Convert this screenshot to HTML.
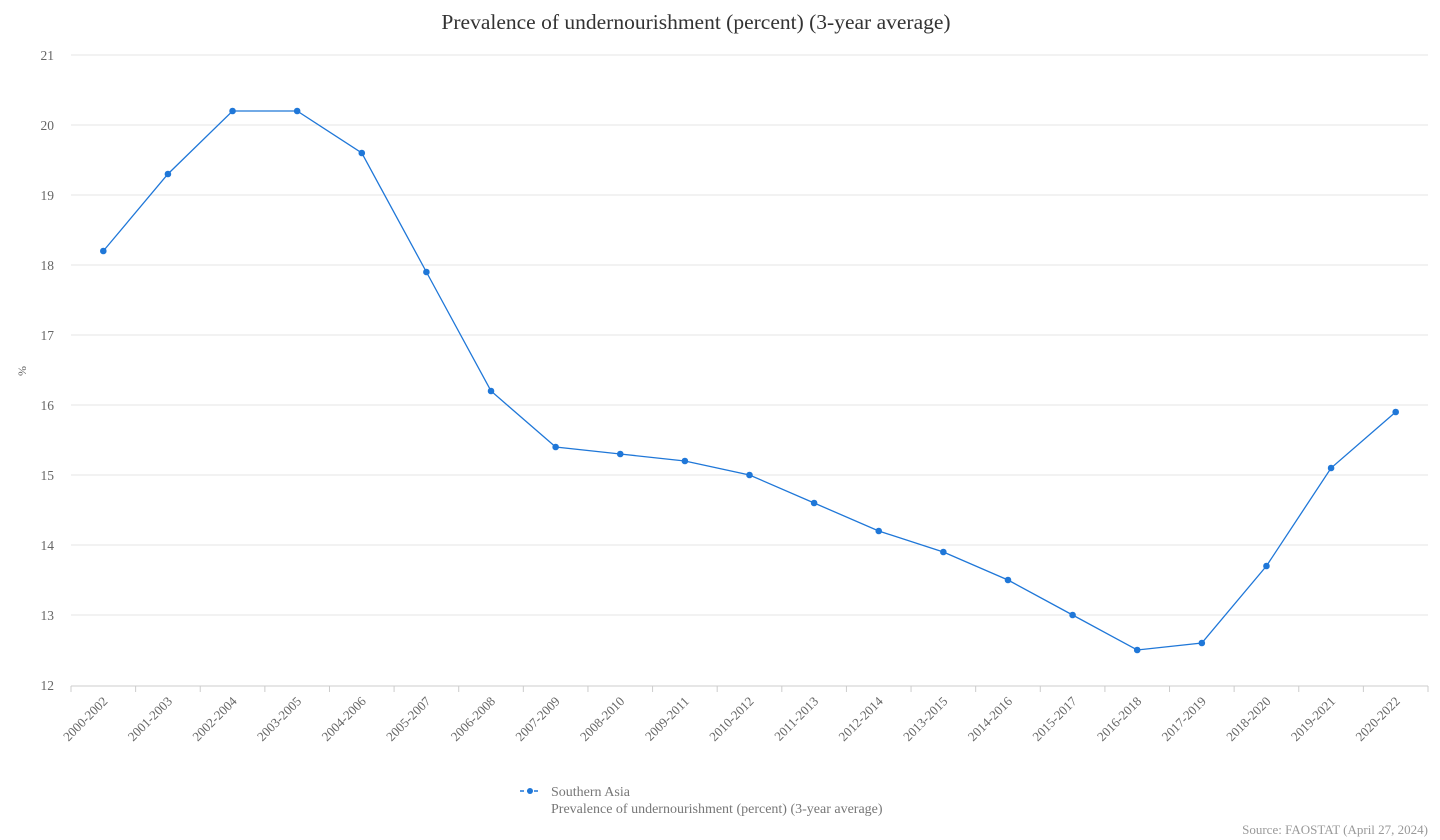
<!DOCTYPE html>
<html><head><meta charset="utf-8"><style>
body{margin:0;background:#fff;}
svg{display:block;font-family:"Liberation Serif",serif;}
</style></head><body>
<svg id="chart" width="1440" height="840">
<text x="696" y="29" text-anchor="middle" font-size="21.5" fill="#333">Prevalence of undernourishment (percent) (3-year average)</text>
<text x="26" y="371" text-anchor="middle" font-size="12" fill="#666" transform="rotate(-90 26 371)">%</text>
<g id="grid"></g><g id="xaxis"></g><g id="series"></g>
<g>
<line x1="520" y1="791" x2="540" y2="791" stroke="#1f77d8" stroke-width="1.5" stroke-dasharray="4,3"/>
<circle cx="530" cy="791" r="3" fill="#1f77d8"/>
<text x="551" y="796" font-size="14" fill="#777">Southern Asia</text>
<text x="551" y="813" font-size="14" fill="#777">Prevalence of undernourishment (percent) (3-year average)</text>
</g>
<text x="1428" y="834" text-anchor="end" font-size="13" fill="#999">Source: FAOSTAT (April 27, 2024)</text>
</svg>
<script>
const categories=["2000-2002","2001-2003","2002-2004","2003-2005","2004-2006","2005-2007","2006-2008","2007-2009","2008-2010","2009-2011","2010-2012","2011-2013","2012-2014","2013-2015","2014-2016","2015-2017","2016-2018","2017-2019","2018-2020","2019-2021","2020-2022"];
const values=[18.2,19.3,20.2,20.2,19.6,17.9,16.2,15.4,15.3,15.2,15.0,14.6,14.2,13.9,13.5,13.0,12.5,12.6,13.7,15.1,15.9];
const yTicks=[12,13,14,15,16,17,18,19,20,21];
const NS="http://www.w3.org/2000/svg";
const L=71,R=1428,T=55,B=685,yMin=12,yMax=21;
const bw=(R-L)/categories.length;
const xs=i=>L+bw*(i+0.5);
const ys=v=>B-(v-yMin)/(yMax-yMin)*(B-T);
function mk(tag,attrs,parent){const e=document.createElementNS(NS,tag);for(const k in attrs)e.setAttribute(k,attrs[k]);parent.appendChild(e);return e;}
const grid=document.getElementById('grid'),xa=document.getElementById('xaxis'),se=document.getElementById('series');
yTicks.forEach(t=>{
  if(t!==yMin){const l=mk('line',{x1:L,x2:R,y1:ys(t),y2:ys(t),stroke:'#e6e6e6','stroke-width':1},grid);
  
  }
  const tx=mk('text',{x:54,y:ys(t)+5,'text-anchor':'end','font-size':13.5,fill:'#666'},grid);
  tx.textContent=t;
  
  
});
const ax=mk('line',{x1:L,x2:R,y1:B+1,y2:B+1,stroke:'#ccc','stroke-width':1},xa);


for(let i=0;i<=categories.length;i++){
  const tk=mk('line',{x1:L+bw*i,x2:L+bw*i,y1:B+1,y2:B+7,stroke:'#ccc'},xa);
  
  
}
categories.forEach((c,i)=>{
  const x=xs(i)+5,y=702;
  const t=mk('text',{x:x,y:y,'text-anchor':'end','font-size':13,fill:'#666',transform:`rotate(-45 ${x} ${y})`},xa);
  t.textContent=c;
  
  
});
const p=mk('polyline',{points:values.map((v,i)=>xs(i)+','+ys(v)).join(' '),fill:'none',stroke:'#1f77d8','stroke-width':1.3},se);


values.forEach((v,i)=>{
  const c=mk('circle',{cx:xs(i),cy:ys(v),r:3.3,fill:'#1f77d8'},se);
  
  
});
</script>
</body></html>
